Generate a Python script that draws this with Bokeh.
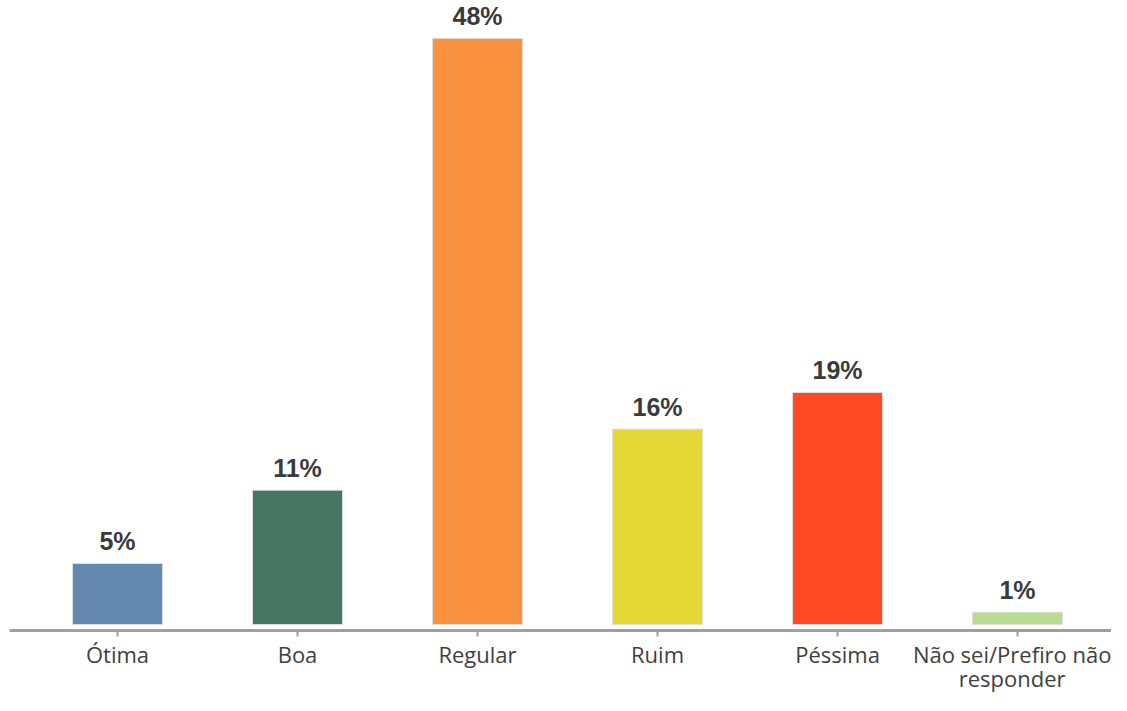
from bokeh.plotting import figure
from bokeh.models import ColumnDataSource, FixedTicker, Range1d
from bokeh.embed import file_html
from bokeh.resources import INLINE
from bokeh.core.properties import value

categories = ["Ótima", "Boa", "Regular", "Ruim", "Péssima", "Não sei/Prefiro não\nresponder"]
values = [5, 11, 48, 16, 19, 1]
labels = ["5%", "11%", "48%", "16%", "19%", "1%"]
colors = ["#6588B0", "#467563", "#FB923F", "#E4D837", "#FF4A23", "#B8DC90"]

xs = list(range(len(categories)))
src = ColumnDataSource(dict(x=xs, top=values, lab=labels, color=colors))

p = figure(width=1111, height=695, output_backend="svg", toolbar_location=None,
           x_range=Range1d(-0.6, 5.522), y_range=Range1d(-0.49, 51.1),
           min_border_left=9, min_border_right=0, min_border_top=0, min_border_bottom=0)
p.outline_line_color = None
p.background_fill_color = "white"
p.border_fill_color = "white"
p.xgrid.visible = False
p.ygrid.visible = False
p.yaxis.visible = False

p.vbar(x="x", top="top", bottom=0, width=0.5, fill_color="color",
       line_color="#dddddd", line_width=1, source=src)
p.text(x="x", y="top", text="lab", source=src, text_align="center", text_baseline="bottom",
       y_offset=-8, text_font=value("Liberation Sans"), text_font_style="bold",
       text_font_size="25px", text_color="#3a3a3a")

ax = p.xaxis[0]
ax.ticker = FixedTicker(ticks=xs)
ax.major_label_overrides = {i: c for i, c in enumerate(categories)}
ax.axis_line_color = "#a0a0a0"
ax.axis_line_width = 3
ax.major_tick_line_color = "#a0a0a0"
ax.major_tick_line_width = 2
ax.major_tick_in = 0
ax.major_tick_out = 6
ax.minor_tick_line_color = None
ax.major_label_text_font = "Open Sans"
ax.major_label_text_font_size = "22px"
ax.major_label_text_line_height = 0.8
ax.major_label_text_color = "#404040"
ax.major_label_standoff = 2

open("out.html", "w").write(file_html(p, INLINE))
